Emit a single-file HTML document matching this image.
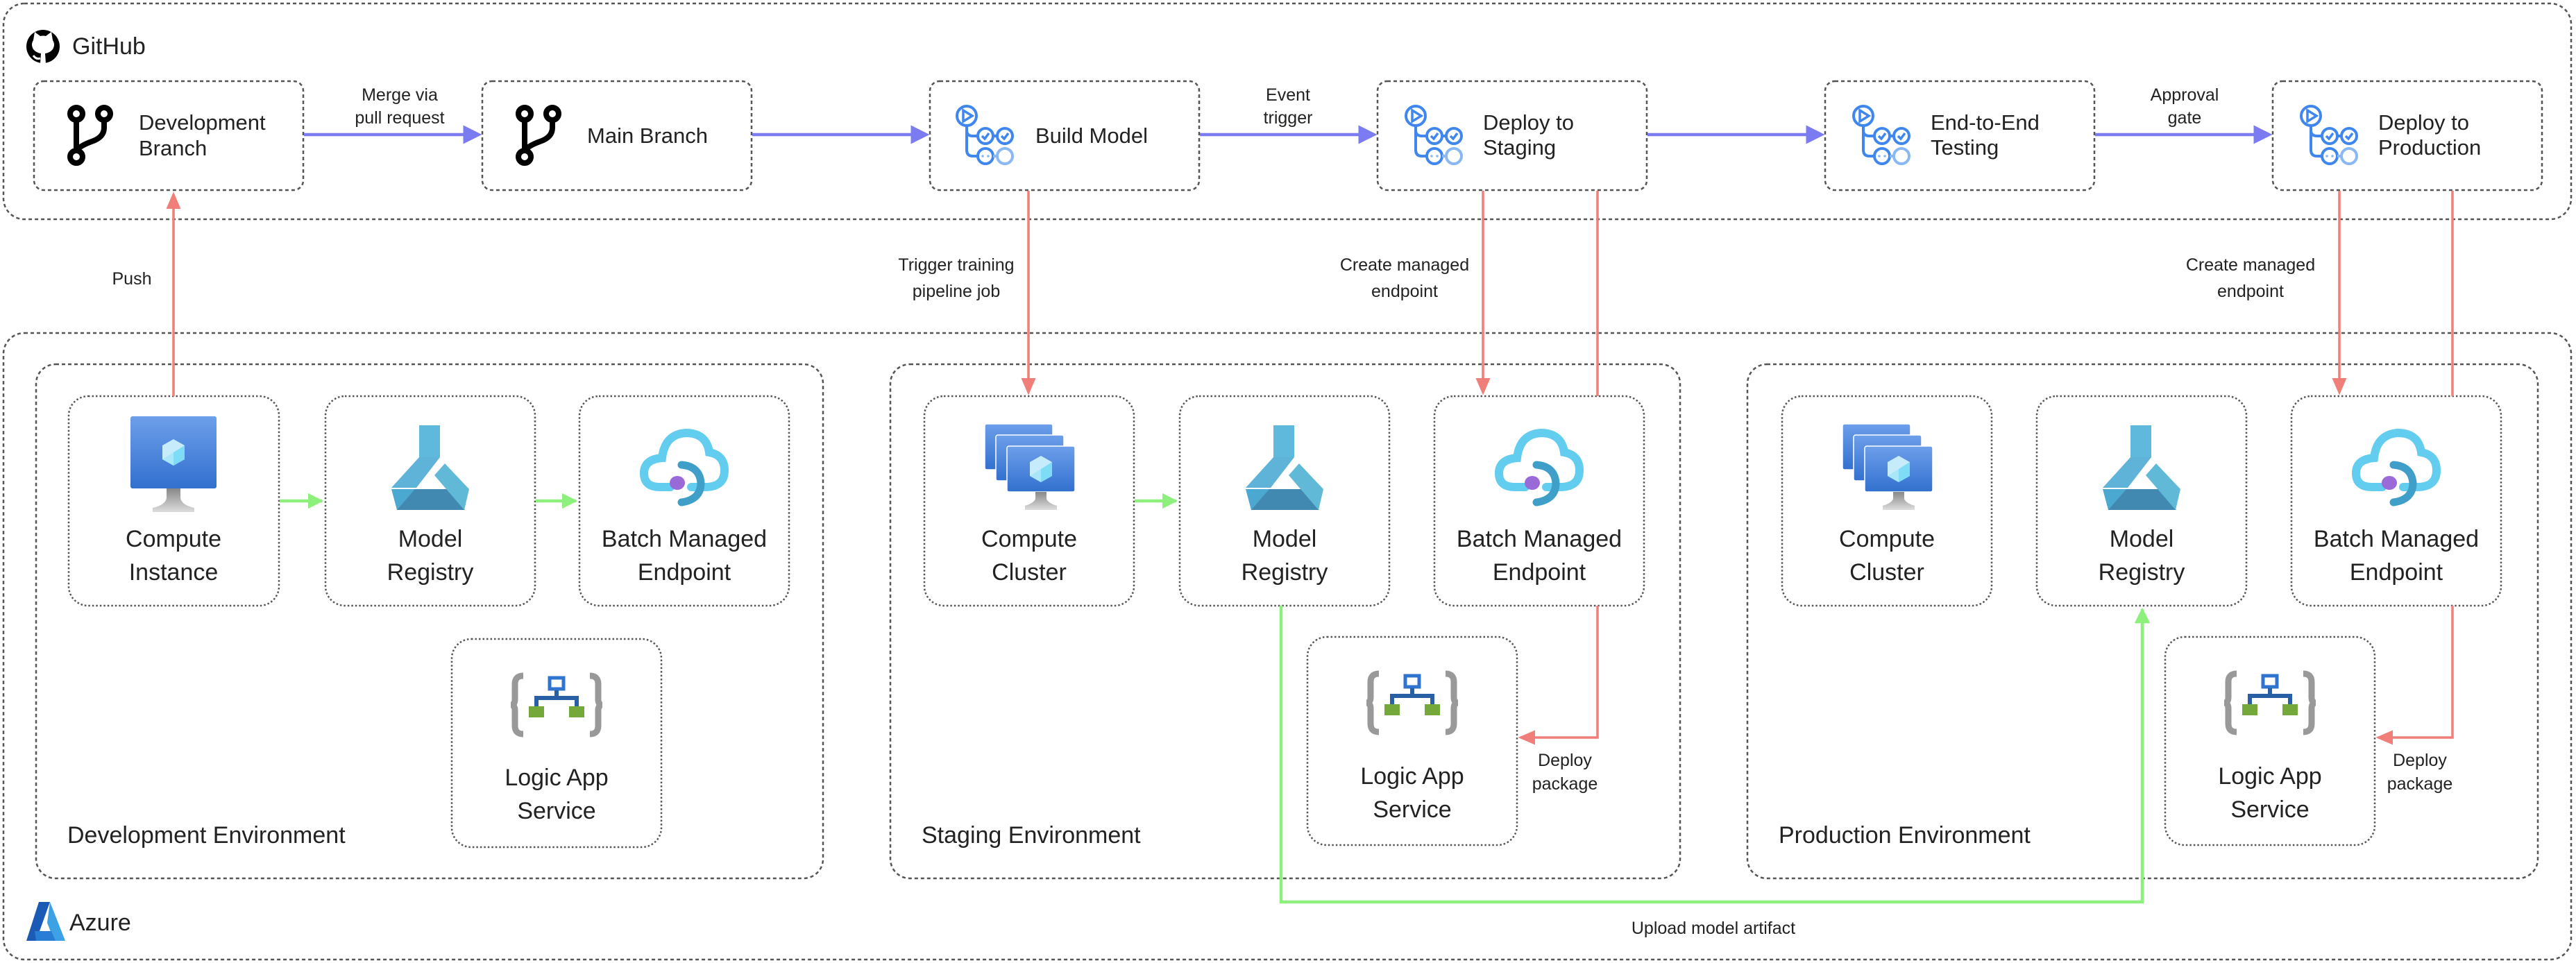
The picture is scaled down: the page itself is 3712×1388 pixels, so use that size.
<!DOCTYPE html>
<html><head><meta charset="utf-8"><style>
html,body{margin:0;padding:0;background:#fff;}
svg{display:block;}
text{font-family:"Liberation Sans",Arial,sans-serif;fill:#222;}
</style></head><body>
<svg width="3712" height="1388" viewBox="0 0 3712 1388" xmlns="http://www.w3.org/2000/svg">
<defs>
<marker id="ab" markerWidth="6" markerHeight="6" refX="5" refY="3" orient="auto" markerUnits="strokeWidth"><path d="M0,0 L6,3 L0,6 z" fill="#7b7bf2"/></marker>
<marker id="ar" markerWidth="7" markerHeight="6" refX="6" refY="3" orient="auto" markerUnits="strokeWidth"><path d="M0,0 L7,3 L0,6 z" fill="#ef7f78"/></marker>
<marker id="ag" markerWidth="5" markerHeight="5" refX="4.5" refY="2.5" orient="auto" markerUnits="strokeWidth"><path d="M0,0 L5,2.5 L0,5 z" fill="#8ef07c"/></marker>
<linearGradient id="mon" x1="0" y1="0" x2="0" y2="1"><stop offset="0" stop-color="#6d9fea"/><stop offset="1" stop-color="#3270cf"/></linearGradient>
<linearGradient id="stand" x1="0" y1="0" x2="0" y2="1"><stop offset="0" stop-color="#888"/><stop offset="1" stop-color="#ddd"/></linearGradient>
<g id="branch" fill="none" stroke="#000" stroke-width="8">
  <circle cx="14" cy="14" r="9"/><circle cx="54" cy="14" r="9"/><circle cx="14" cy="76" r="9"/>
  <path d="M14 23 V67 M54 23 V34 Q54 48 36 54 Q14 62 14 70"/>
</g>
<g id="wf" fill="none" stroke="#3f87ee" stroke-width="4">
  <circle cx="17" cy="17" r="14"/><path d="M12 9 L25 17 L12 25 Z" stroke-width="3.5"/>
  <path d="M17 31 V66 Q17 75 26 75 H33 M17 38 Q17 46 26 46 H33 M55 46 H61"/>
  <circle cx="44" cy="46" r="11"/><circle cx="72" cy="46" r="11"/>
  <path d="M39 46 L43 50 L49 42 M67 46 L71 50 L77 42" stroke-width="3.5"/>
  <circle cx="44" cy="75" r="11"/>
  <circle cx="40" cy="75" r="1.8" fill="#8ab8f5" stroke="none"/><circle cx="48" cy="75" r="1.8" fill="#8ab8f5" stroke="none"/>
  <path d="M55 75 H61" stroke="#8ab8f5"/><circle cx="72" cy="75" r="11" stroke="#8ab8f5"/>
</g>
<g id="cube">
  <path d="M0 -19 L16 -10 L16 10 L0 19 L-16 10 L-16 -10 Z" fill="#c6ecfb"/>
  <path d="M0 0 L16 -10 L16 10 L0 19 Z" fill="#7fdcf6"/>
  <path d="M0 0 L-16 10 L0 19 Z" fill="#a9e6f8"/>
</g>
<g id="ci">
  <rect x="-62" y="0" width="124" height="104" rx="3" fill="url(#mon)"/>
  <use href="#cube" x="0" y="52"/>
  <path d="M-10 104 H10 V118 Q12 128 30 132 V138 H-30 V132 Q-12 128 -10 118 Z" fill="url(#stand)"/>
</g>
<g id="cc">
  <rect x="-64" y="0" width="98" height="66" rx="3" fill="url(#mon)" stroke="#fff" stroke-width="1.5"/>
  <rect x="-48" y="16" width="98" height="66" rx="3" fill="url(#mon)" stroke="#fff" stroke-width="1.5"/>
  <rect x="-32" y="32" width="98" height="66" rx="3" fill="url(#mon)" stroke="#fff" stroke-width="1.5"/>
  <use href="#cube" x="17" y="65"/>
  <path d="M9 98 H25 V108 Q27 114 40 118 V124 H-6 V118 Q7 114 9 108 Z" fill="url(#stand)"/>
</g>
<g id="mr">
  <rect x="-16" y="0" width="30" height="46" fill="#5fb9dc"/>
  <path d="M-16 46 H14 L-20 90 H-56 Z" fill="#5fb3d8"/>
  <path d="M-56 92 L-48 122 H-3 L-22 92 Z" fill="#4aa8d1"/>
  <path d="M-48 122 L-22 92 H27 L50 122 Z" fill="#4289b1"/>
  <path d="M21 55 L56 92 L49 122 L6 72 Z" fill="#5fb9d7"/>
</g>
<g id="be" fill="none">
  <path d="M-20 40 H-35 Q-58 40 -58 20 Q-58 0 -32 -2 Q-28 -36 2 -38 Q32 -38 36 -10 Q58 -6 58 16 Q58 40 30 40 H10" stroke="#62cdef" stroke-width="12" stroke-linecap="round"/>
  <path d="M-4 8 Q22 10 24 34 Q24 58 -4 62" stroke="#3f9fc9" stroke-width="11" stroke-linecap="round"/>
  <ellipse cx="-10" cy="34" rx="11" ry="10" fill="#9a6ad8"/>
</g>
<g id="la">
  <path d="M-48 -42 Q-60 -42 -60 -30 V-8 Q-60 0 -66 0 Q-60 0 -60 8 V30 Q-60 42 -48 42" fill="none" stroke="#999" stroke-width="9"/>
  <path d="M48 -42 Q60 -42 60 -30 V-8 Q60 0 66 0 Q60 0 60 8 V30 Q60 42 48 42" fill="none" stroke="#999" stroke-width="9"/>
  <rect x="-10" y="-39" width="20" height="16" fill="#fff" stroke="#2f75d0" stroke-width="5"/>
  <path d="M0 -21 V-10 M-29 2 V-10 H29 V2" fill="none" stroke="#285fa5" stroke-width="6"/>
  <rect x="-40" y="2" width="22" height="16" fill="#74a83b"/><rect x="18" y="2" width="22" height="16" fill="#74a83b"/>
</g>
</defs>

<!-- GitHub container -->
<rect x="5" y="5" width="3700" height="311" rx="30" fill="none" stroke="#555" stroke-width="2.5" stroke-dasharray="5 4"/>
<g transform="translate(38,38)">
  <circle cx="24" cy="29" r="24" fill="#000"/>
  <path d="M10 20 L12 8 L20 14 Q24 13 28 14 L36 8 L38 20 Q42 26 38 33 Q34 38 27 39 L28 54 H20 L21 39 Q14 38 10 33 Q6 26 10 20 Z" fill="#fff"/>
  <path d="M10 42 Q14 48 20 46" stroke="#fff" stroke-width="3" fill="none"/>
</g>
<text x="104" y="78" font-size="34">GitHub</text>

<g fill="none" stroke="#555" stroke-width="2.5" stroke-dasharray="5 4">
<rect x="49" y="117" width="388" height="157" rx="14"/>
<rect x="695" y="117" width="388" height="157" rx="14"/>
<rect x="1340" y="117" width="388" height="157" rx="14"/>
<rect x="1985" y="117" width="388" height="157" rx="14"/>
<rect x="2630" y="117" width="388" height="157" rx="14"/>
<rect x="3275" y="117" width="388" height="157" rx="14"/>
</g>
<use href="#branch" x="96" y="150"/>
<text x="200" y="187" font-size="31">Development</text><text x="200" y="224" font-size="31">Branch</text>
<use href="#branch" x="742" y="150"/>
<text x="846" y="206" font-size="31">Main Branch</text>
<use href="#wf" x="1376" y="150"/>
<text x="1492" y="206" font-size="31">Build Model</text>
<use href="#wf" x="2023" y="150"/>
<text x="2137" y="187" font-size="31">Deploy to</text><text x="2137" y="223" font-size="31">Staging</text>
<use href="#wf" x="2668" y="150"/>
<text x="2782" y="187" font-size="31">End-to-End</text><text x="2782" y="223" font-size="31">Testing</text>
<use href="#wf" x="3313" y="150"/>
<text x="3427" y="187" font-size="31">Deploy to</text><text x="3427" y="223" font-size="31">Production</text>

<!-- blue arrows -->
<g stroke="#7b7bf2" stroke-width="4.5" fill="none" marker-end="url(#ab)">
<line x1="438" y1="194" x2="690" y2="194"/>
<line x1="1084" y1="194" x2="1335" y2="194"/>
<line x1="1729" y1="194" x2="1980" y2="194"/>
<line x1="2374" y1="194" x2="2625" y2="194"/>
<line x1="3019" y1="194" x2="3270" y2="194"/>
</g>
<g font-size="25" text-anchor="middle">
<text x="576" y="145">Merge via</text><text x="576" y="178">pull request</text>
<text x="1856" y="145">Event</text><text x="1856" y="178">trigger</text>
<text x="3148" y="145">Approval</text><text x="3148" y="178">gate</text>
<text x="190" y="410">Push</text>
<text x="1378" y="390">Trigger training</text><text x="1378" y="428">pipeline job</text>
<text x="2024" y="390">Create managed</text><text x="2024" y="428">endpoint</text>
<text x="3243" y="390">Create managed</text><text x="3243" y="428">endpoint</text>
<text x="2255" y="1104">Deploy</text><text x="2255" y="1138">package</text>
<text x="3487" y="1104">Deploy</text><text x="3487" y="1138">package</text>
<text x="2469" y="1346">Upload model artifact</text>
</g>

<!-- Azure container -->
<rect x="5" y="480" width="3700" height="903" rx="30" fill="none" stroke="#555" stroke-width="2.5" stroke-dasharray="5 4"/>
<g transform="translate(38,1300)">
  <path d="M18 0 H34 L14 56 H0 Z" fill="#1b5bb5"/>
  <path d="M34 0 L56 56 H40 L30 30 Z" fill="#3da1e6"/>
  <path d="M12 42 H36 L42 56 H14 Z" fill="#2a7dd4"/>
</g>
<text x="100" y="1341" font-size="34">Azure</text>

<g fill="none" stroke="#555" stroke-width="2.5" stroke-dasharray="5 4">
<rect x="52" y="525" width="1134" height="741" rx="28"/>
<rect x="1283" y="525" width="1138" height="741" rx="28"/>
<rect x="2518" y="525" width="1139" height="741" rx="28"/>
</g>
<g font-size="34">
<text x="97" y="1215">Development Environment</text>
<text x="1328" y="1215">Staging Environment</text>
<text x="2563" y="1215">Production Environment</text>
</g>

<g fill="none" stroke="#555" stroke-width="2.5" stroke-dasharray="2.5 3">
<rect x="99" y="571" width="303" height="302" rx="28"/>
<rect x="469" y="571" width="302" height="302" rx="28"/>
<rect x="835" y="571" width="302" height="302" rx="28"/>
<rect x="651" y="921" width="302" height="300" rx="28"/>
<rect x="1332" y="571" width="302" height="302" rx="28"/>
<rect x="1700" y="571" width="302" height="302" rx="28"/>
<rect x="2067" y="571" width="302" height="302" rx="28"/>
<rect x="1884" y="918" width="302" height="300" rx="28"/>
<rect x="2568" y="571" width="302" height="302" rx="28"/>
<rect x="2935" y="571" width="302" height="302" rx="28"/>
<rect x="3302" y="571" width="302" height="302" rx="28"/>
<rect x="3120" y="918" width="302" height="300" rx="28"/>
</g>

<use href="#ci" x="250" y="600"/>
<use href="#mr" x="620" y="613"/>
<use href="#be" x="986" y="662"/>
<use href="#la" x="802" y="1016"/>
<use href="#cc" x="1483" y="611"/>
<use href="#mr" x="1851" y="613"/>
<use href="#be" x="2218" y="662"/>
<use href="#la" x="2035" y="1013"/>
<use href="#cc" x="2719" y="611"/>
<use href="#mr" x="3086" y="613"/>
<use href="#be" x="3453" y="662"/>
<use href="#la" x="3271" y="1013"/>

<g font-size="34" text-anchor="middle">
<text x="250" y="788">Compute</text><text x="250" y="836">Instance</text>
<text x="620" y="788">Model</text><text x="620" y="836">Registry</text>
<text x="986" y="788">Batch Managed</text><text x="986" y="836">Endpoint</text>
<text x="802" y="1132">Logic App</text><text x="802" y="1180">Service</text>
<text x="1483" y="788">Compute</text><text x="1483" y="836">Cluster</text>
<text x="1851" y="788">Model</text><text x="1851" y="836">Registry</text>
<text x="2218" y="788">Batch Managed</text><text x="2218" y="836">Endpoint</text>
<text x="2035" y="1130">Logic App</text><text x="2035" y="1178">Service</text>
<text x="2719" y="788">Compute</text><text x="2719" y="836">Cluster</text>
<text x="3086" y="788">Model</text><text x="3086" y="836">Registry</text>
<text x="3453" y="788">Batch Managed</text><text x="3453" y="836">Endpoint</text>
<text x="3271" y="1130">Logic App</text><text x="3271" y="1178">Service</text>
</g>

<!-- red connectors -->
<g stroke="#ef7f78" stroke-width="3.5" fill="none">
<line x1="250" y1="571" x2="250" y2="280" marker-end="url(#ar)"/>
<line x1="1482" y1="275" x2="1482" y2="566" marker-end="url(#ar)"/>
<line x1="2137" y1="275" x2="2137" y2="566" marker-end="url(#ar)"/>
<line x1="2302" y1="275" x2="2302" y2="571"/>
<polyline points="2302,873 2302,1063 2191,1063" marker-end="url(#ar)"/>
<line x1="3371" y1="275" x2="3371" y2="566" marker-end="url(#ar)"/>
<line x1="3534" y1="275" x2="3534" y2="571"/>
<polyline points="3534,873 3534,1063 3427,1063" marker-end="url(#ar)"/>
</g>
<!-- green connectors -->
<g stroke="#8ef07c" stroke-width="4.5" fill="none">
<line x1="403" y1="722" x2="464" y2="722" marker-end="url(#ag)"/>
<line x1="772" y1="722" x2="830" y2="722" marker-end="url(#ag)"/>
<line x1="1635" y1="722" x2="1695" y2="722" marker-end="url(#ag)"/>
<polyline points="1846,873 1846,1300 3087,1300 3087,878" marker-end="url(#ag)"/>
</g>
</svg>
</body></html>
